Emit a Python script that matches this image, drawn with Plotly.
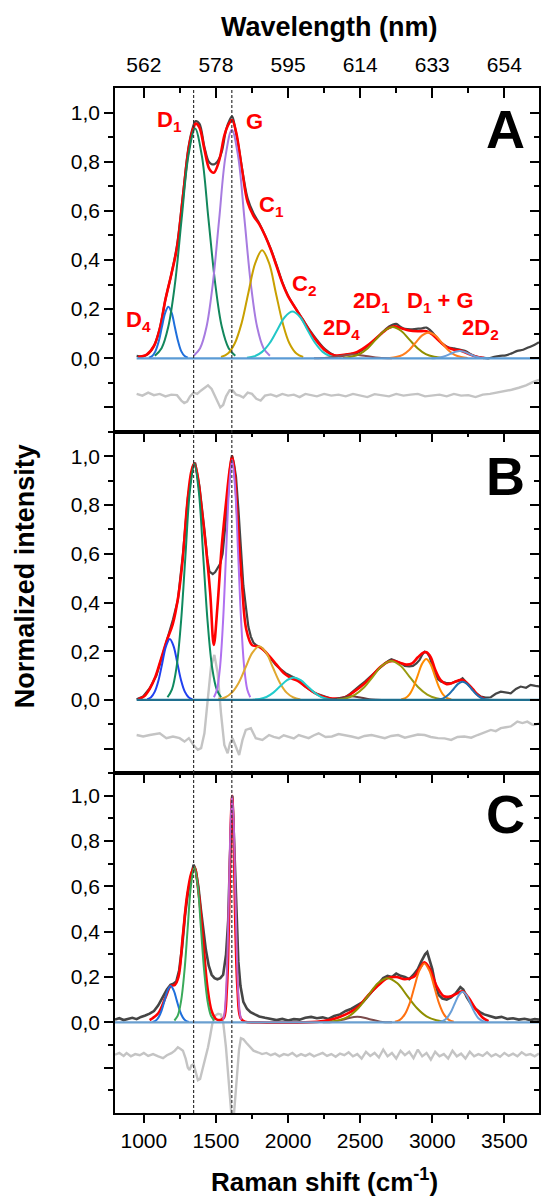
import plotly.graph_objects as go

# ---------------- tick labels / axis values ----------------
raman_ticks = [1000, 1500, 2000, 2500, 3000, 3500]
raman_labels = ["1000", "1500", "2000", "2500", "3000", "3500"]
wavelength_labels = ["562", "578", "595", "614", "633", "654"]
raman_minor = [750, 1250, 1750, 2250, 2750, 3250]
y_ticks = [-0.2, 0.0, 0.2, 0.4, 0.6, 0.8, 1.0]
y_labels = ["", "0,0", "0,2", "0,4", "0,6", "0,8", "1,0"]
y_minor = [-0.3, -0.1, 0.1, 0.3, 0.5, 0.7, 0.9]
band_lines = [1345, 1610]
panel_letters = ["A", "B", "C"]

# ---------------- panel A ----------------
A_spectrum = [[950,0.010],[990,0.008],[1030,0.018],[1070,0.05],[1110,0.12],[1150,0.24],[1190,0.34],[1230,0.46],
 [1270,0.66],[1310,0.86],[1340,0.94],[1360,0.965],[1385,0.955],[1420,0.86],[1450,0.80],[1470,0.79],[1490,0.79],
 [1510,0.80],[1540,0.84],[1570,0.93],[1595,0.97],[1612,0.985],[1635,0.93],[1660,0.85],[1690,0.74],[1720,0.65],
 [1760,0.59],[1800,0.55],[1840,0.50],[1880,0.445],[1920,0.38],[1960,0.31],[2000,0.255],[2050,0.205],[2100,0.16],
 [2150,0.115],[2200,0.075],[2260,0.035],[2320,0.012],[2360,0.008],[2400,0.014],[2440,0.018],[2480,0.022],
 [2520,0.035],[2560,0.055],[2600,0.075],[2640,0.097],[2680,0.12],[2720,0.135],[2750,0.14],[2780,0.128],
 [2810,0.12],[2850,0.118],[2890,0.12],[2930,0.122],[2960,0.125],[2990,0.112],[3030,0.085],[3070,0.06],
 [3110,0.045],[3150,0.04],[3190,0.035],[3230,0.03],[3270,0.015],[3310,0.006],[3350,0.002],[3390,0.0],
 [3430,0.006],[3470,0.01],[3510,0.012],[3550,0.02],[3590,0.03],[3630,0.035],[3670,0.045],[3710,0.055],[3740,0.065]]
A_fit = [[960,0.005],[1020,0.015],[1070,0.05],[1110,0.12],[1150,0.24],[1190,0.34],[1230,0.45],[1270,0.65],
 [1310,0.85],[1340,0.93],[1360,0.955],[1385,0.94],[1420,0.85],[1455,0.77],[1485,0.755],[1520,0.80],[1560,0.91],
 [1590,0.955],[1612,0.97],[1640,0.92],[1680,0.77],[1720,0.634],[1760,0.58],[1800,0.546],[1840,0.50],[1880,0.443],
 [1920,0.375],[1960,0.307],[2000,0.253],[2050,0.205],[2100,0.158],[2150,0.11],[2200,0.069],[2260,0.031],
 [2320,0.012],[2400,0.015],[2480,0.026],[2560,0.056],[2640,0.097],[2700,0.124],[2740,0.13],[2790,0.121],
 [2840,0.113],[2900,0.11],[2960,0.11],[3000,0.097],[3050,0.069],[3100,0.045],[3150,0.035],[3200,0.031],
 [3250,0.018],[3300,0.007],[3360,0.001]]
A_residual = [[950,-0.145],[990,-0.152],[1030,-0.14],[1070,-0.15],[1110,-0.145],[1150,-0.155],[1190,-0.148],
 [1230,-0.15],[1260,-0.172],[1280,-0.182],[1300,-0.176],[1320,-0.155],[1345,-0.14],[1370,-0.145],[1395,-0.132],
 [1420,-0.122],[1445,-0.11],[1470,-0.125],[1490,-0.15],[1510,-0.18],[1530,-0.2],[1550,-0.19],[1570,-0.155],
 [1595,-0.13],[1615,-0.13],[1640,-0.148],[1665,-0.152],[1690,-0.16],[1720,-0.14],[1750,-0.145],[1780,-0.165],
 [1810,-0.172],[1840,-0.152],[1880,-0.147],[1920,-0.155],[1960,-0.145],[2000,-0.152],[2040,-0.148],[2080,-0.158],
 [2120,-0.145],[2160,-0.15],[2200,-0.155],[2250,-0.145],[2300,-0.152],[2350,-0.148],[2400,-0.155],[2450,-0.145],
 [2500,-0.15],[2550,-0.158],[2600,-0.146],[2650,-0.15],[2700,-0.155],[2750,-0.145],[2800,-0.152],[2850,-0.148],
 [2900,-0.145],[2950,-0.155],[3000,-0.15],[3050,-0.148],[3100,-0.155],[3150,-0.145],[3200,-0.152],[3250,-0.15],
 [3300,-0.158],[3350,-0.148],[3400,-0.145],[3450,-0.14],[3500,-0.135],[3550,-0.128],[3600,-0.12],[3650,-0.11],
 [3700,-0.096],[3740,-0.088]]
A_base_x = [950, 3740]
A_base_y = [0.0, 0.0]
A_D4_x = [1035,1058,1080,1103,1125,1148,1170,1193,1215,1238,1260,1283,1305]
A_D4_y = [0.002,0.009,0.028,0.068,0.127,0.185,0.21,0.185,0.127,0.068,0.028,0.009,0.002]
A_D1_x = [1076,1123,1169,1216,1262,1309,1355,1402,1448,1495,1541,1588,1634]
A_D1_y = [0.010,0.041,0.127,0.304,0.567,0.825,0.935,0.825,0.567,0.304,0.127,0.041,0.010]
A_G_x = [1346,1390,1434,1478,1522,1566,1610,1654,1698,1742,1786,1830,1874]
A_G_y = [0.010,0.041,0.126,0.302,0.564,0.821,0.93,0.821,0.564,0.302,0.126,0.041,0.010]
A_C1_x = [1535,1583,1630,1678,1725,1773,1820,1868,1915,1963,2010,2058,2105]
A_C1_y = [0.005,0.019,0.060,0.143,0.267,0.388,0.44,0.388,0.267,0.143,0.060,0.019,0.005]
A_C2_x = [1715,1768,1820,1873,1925,1978,2030,2083,2135,2188,2240,2293,2345]
A_C2_y = [0.002,0.008,0.026,0.062,0.115,0.168,0.19,0.168,0.115,0.062,0.026,0.008,0.002]
A_2D4_x = [2180,2270,2360,2450,2540,2630,2720]
A_2D4_y = [0.0,0.002,0.009,0.015,0.009,0.002,0.0]
A_2D1_x = [2380,2438,2495,2553,2610,2668,2725,2783,2840,2898,2955,3013,3070]
A_2D1_y = [0.001,0.006,0.017,0.041,0.077,0.112,0.127,0.112,0.077,0.041,0.017,0.006,0.001]
A_D1G_x = [2705,2750,2795,2840,2885,2930,2975,3020,3065,3110,3155,3200,3245]
A_D1G_y = [0.001,0.005,0.014,0.034,0.064,0.093,0.105,0.093,0.064,0.034,0.014,0.005,0.001]
A_2D2_x = [2995,3028,3060,3093,3125,3158,3190,3223,3255,3288,3320,3353,3385]
A_2D2_y = [0.0,0.001,0.004,0.010,0.018,0.026,0.03,0.026,0.018,0.010,0.004,0.001,0.0]

# band labels of panel A: text, x (cm-1), y (intensity)
label_text = ["D<sub>1</sub>", "G", "C<sub>1</sub>", "C<sub>2</sub>", "D<sub>4</sub>", "2D<sub>4</sub>",
              "2D<sub>1</sub>", "D<sub>1</sub> + G", "2D<sub>2</sub>"]
label_x = [1180, 1765, 1885, 2110, 960, 2370, 2580, 3060, 3335]
label_y = [0.965, 0.965, 0.62, 0.30, 0.15, 0.12, 0.23, 0.23, 0.118]

# ---------------- panel B ----------------
B_spectrum = [[950,0.003],[995,0.014],[1041,0.048],[1087,0.10],[1133,0.19],[1168,0.26],[1202,0.33],[1236,0.41],
 [1271,0.60],[1305,0.83],[1340,0.96],[1356,0.974],[1386,0.876],[1420,0.70],[1440,0.58],[1455,0.527],[1478,0.517],
 [1495,0.525],[1512,0.54],[1530,0.56],[1546,0.60],[1565,0.70],[1581,0.81],[1597,0.95],[1611,1.005],[1625,0.97],
 [1639,0.917],[1656,0.78],[1673,0.60],[1690,0.47],[1708,0.38],[1725,0.30],[1742,0.26],[1760,0.235],[1776,0.226],
 [1800,0.22],[1822,0.212],[1845,0.195],[1868,0.178],[1890,0.16],[1914,0.144],[1950,0.125],[1983,0.11],[2020,0.098],
 [2051,0.089],[2085,0.075],[2120,0.055],[2155,0.04],[2189,0.027],[2225,0.02],[2258,0.014],[2290,0.006],[2327,0.0],
 [2360,0.004],[2396,0.011],[2430,0.025],[2464,0.044],[2500,0.06],[2533,0.075],[2570,0.095],[2602,0.116],
 [2640,0.135],[2671,0.15],[2700,0.162],[2717,0.167],[2740,0.162],[2763,0.157],[2790,0.148],[2809,0.14],
 [2840,0.138],[2866,0.14],[2890,0.15],[2912,0.164],[2930,0.185],[2947,0.198],[2965,0.192],[2981,0.178],
 [3000,0.145],[3016,0.11],[3040,0.085],[3062,0.075],[3095,0.07],[3131,0.068],[3160,0.075],[3190,0.08],
 [3210,0.089],[3240,0.07],[3268,0.048],[3300,0.03],[3337,0.014],[3370,0.01],[3406,0.011],[3440,0.025],
 [3475,0.034],[3510,0.03],[3544,0.027],[3580,0.045],[3613,0.055],[3650,0.05],[3682,0.062],[3715,0.058],[3746,0.055]]
B_fit = [[960,0.003],[1000,0.014],[1040,0.045],[1080,0.095],[1120,0.17],[1160,0.245],[1200,0.31],[1240,0.43],
 [1270,0.58],[1300,0.80],[1330,0.94],[1350,0.97],[1370,0.93],[1400,0.79],[1430,0.63],[1460,0.44],[1485,0.226],
 [1510,0.38],[1540,0.63],[1570,0.81],[1595,0.944],[1612,1.0],[1630,0.93],[1650,0.74],[1680,0.48],[1710,0.29],
 [1750,0.225],[1790,0.22],[1830,0.205],[1870,0.18],[1920,0.145],[1970,0.11],[2020,0.09],[2070,0.077],[2120,0.055],
 [2170,0.034],[2220,0.018],[2280,0.008],[2340,0.006],[2400,0.012],[2460,0.035],[2520,0.062],[2580,0.098],
 [2640,0.135],[2700,0.158],[2740,0.16],[2780,0.152],[2820,0.145],[2860,0.15],[2900,0.175],[2940,0.195],
 [2960,0.196],[2990,0.175],[3020,0.125],[3060,0.08],[3100,0.065],[3140,0.07],[3180,0.08],[3210,0.082],
 [3240,0.07],[3280,0.045],[3320,0.018],[3360,0.005]]
B_residual = [[950,-0.144],[995,-0.15],[1041,-0.144],[1080,-0.14],[1110,-0.137],[1156,-0.157],[1202,-0.15],
 [1248,-0.157],[1282,-0.171],[1312,-0.157],[1344,-0.185],[1374,-0.205],[1397,-0.198],[1420,-0.137],[1443,0.014],
 [1466,0.137],[1489,0.185],[1512,0.11],[1535,-0.055],[1558,-0.185],[1581,-0.219],[1597,-0.178],[1615,-0.157],
 [1638,-0.192],[1661,-0.226],[1684,-0.164],[1707,-0.123],[1742,-0.116],[1776,-0.157],[1822,-0.164],[1868,-0.144],
 [1900,-0.152],[1937,-0.157],[1970,-0.145],[2005,-0.15],[2040,-0.158],[2074,-0.144],[2110,-0.15],[2143,-0.157],
 [2180,-0.145],[2212,-0.137],[2260,-0.152],[2304,-0.15],[2350,-0.14],[2396,-0.144],[2440,-0.15],[2488,-0.157],
 [2530,-0.148],[2579,-0.144],[2625,-0.152],[2671,-0.157],[2715,-0.148],[2763,-0.144],[2810,-0.155],[2855,-0.15],
 [2900,-0.142],[2947,-0.144],[2990,-0.152],[3039,-0.157],[3085,-0.158],[3131,-0.164],[3175,-0.152],[3222,-0.15],
 [3270,-0.155],[3314,-0.144],[3360,-0.135],[3406,-0.123],[3440,-0.128],[3475,-0.116],[3510,-0.112],[3544,-0.109],
 [3570,-0.098],[3590,-0.089],[3625,-0.095],[3659,-0.089],[3690,-0.1],[3705,-0.103],[3746,-0.096]]
B_base_x = [950, 3740]
B_base_y = [0.0, 0.0]
B_D4_x = [1024,1050,1076,1102,1128,1154,1180,1206,1232,1258,1284,1310,1336]
B_D4_y = [0.003,0.011,0.034,0.081,0.152,0.221,0.25,0.221,0.152,0.081,0.034,0.011,0.003]
B_D1_x = [1164,1195,1226,1257,1288,1319,1350,1381,1412,1443,1474,1505,1536]
B_D1_y = [0.011,0.043,0.131,0.315,0.588,0.856,0.97,0.856,0.588,0.315,0.131,0.043,0.011]
B_G_x = [1486,1507,1528,1549,1570,1591,1612,1633,1654,1675,1696,1717,1738]
B_G_y = [0.011,0.043,0.133,0.320,0.597,0.869,0.985,0.869,0.597,0.320,0.133,0.043,0.011]
B_C1_x = [1515,1563,1610,1658,1705,1753,1800,1848,1895,1943,1990,2038,2085]
B_C1_y = [0.002,0.010,0.030,0.071,0.133,0.194,0.22,0.194,0.133,0.071,0.030,0.010,0.002]
B_C2_x = [1755,1803,1850,1898,1945,1993,2040,2088,2135,2183,2230,2278,2325]
B_C2_y = [0.001,0.004,0.012,0.030,0.056,0.081,0.092,0.081,0.056,0.030,0.012,0.004,0.001]
B_2D4_x = [2230,2300,2370,2440,2510,2580,2650]
B_2D4_y = [0.0,0.002,0.009,0.015,0.009,0.002,0.0]
B_2D1_x = [2340,2403,2465,2528,2590,2653,2715,2778,2840,2903,2965,3028,3090]
B_2D1_y = [0.002,0.007,0.022,0.052,0.097,0.141,0.16,0.141,0.097,0.052,0.022,0.007,0.002]
B_D1G_x = [2784,2813,2842,2871,2900,2929,2958,2987,3016,3045,3074,3103,3132]
B_D1G_y = [0.002,0.007,0.023,0.055,0.102,0.148,0.168,0.148,0.102,0.055,0.023,0.007,0.002]
B_2D2_x = [3024,3055,3086,3117,3148,3179,3210,3241,3272,3303,3334,3365,3396]
B_2D2_y = [0.001,0.003,0.010,0.024,0.045,0.066,0.075,0.066,0.045,0.024,0.010,0.003,0.001]

# ---------------- panel C ----------------
C_spectrum = [[800,0.012],[830,0.018],[860,0.010],[890,0.016],[920,0.02],[950,0.014],[980,0.024],[1010,0.03],
 [1040,0.038],[1070,0.05],[1100,0.075],[1130,0.11],[1160,0.145],[1185,0.165],[1205,0.17],[1225,0.18],[1245,0.23],
 [1265,0.33],[1285,0.47],[1305,0.57],[1325,0.64],[1345,0.695],[1360,0.67],[1378,0.6],[1395,0.5],[1410,0.42],
 [1430,0.32],[1450,0.25],[1470,0.21],[1490,0.195],[1510,0.19],[1530,0.195],[1550,0.21],[1570,0.30],[1585,0.45],
 [1597,0.72],[1606,0.9],[1613,1.0],[1620,0.9],[1630,0.7],[1642,0.45],[1655,0.27],[1670,0.16],[1690,0.09],
 [1715,0.06],[1740,0.045],[1770,0.035],[1800,0.026],[1840,0.02],[1880,0.015],[1920,0.01],[1960,0.015],[2000,0.008],
 [2040,0.014],[2080,0.012],[2120,0.02],[2160,0.024],[2200,0.018],[2240,0.022],[2280,0.015],[2320,0.028],
 [2360,0.035],[2400,0.05],[2440,0.06],[2480,0.075],[2520,0.09],[2560,0.12],[2600,0.15],[2630,0.17],[2660,0.195],
 [2690,0.205],[2720,0.2],[2750,0.215],[2780,0.205],[2810,0.2],[2840,0.19],[2870,0.21],[2900,0.235],[2925,0.27],
 [2950,0.3],[2965,0.31],[2980,0.28],[3000,0.235],[3020,0.17],[3045,0.12],[3070,0.105],[3100,0.1],[3130,0.11],
 [3165,0.13],[3195,0.155],[3215,0.145],[3240,0.11],[3270,0.08],[3300,0.06],[3330,0.045],[3360,0.035],[3400,0.026],
 [3440,0.02],[3480,0.024],[3520,0.015],[3560,0.018],[3600,0.012],[3640,0.016],[3680,0.01],[3710,0.014],[3740,0.012]]
C_fit = [[1040,0.01],[1100,0.04],[1150,0.11],[1186,0.16],[1215,0.165],[1240,0.2],[1270,0.38],[1300,0.56],
 [1330,0.66],[1350,0.685],[1380,0.57],[1410,0.37],[1440,0.16],[1470,0.05],[1500,0.015],[1530,0.01],[1555,0.02],
 [1575,0.14],[1590,0.45],[1602,0.85],[1612,1.0],[1622,0.85],[1634,0.45],[1650,0.14],[1670,0.02],[1700,0.003],
 [1800,0.0],[2200,0.002],[2300,0.012],[2400,0.035],[2480,0.065],[2550,0.115],[2620,0.16],[2690,0.195],
 [2750,0.2],[2810,0.19],[2870,0.2],[2920,0.245],[2945,0.265],[2980,0.24],[3030,0.16],[3080,0.115],[3130,0.115],
 [3180,0.13],[3210,0.137],[3250,0.11],[3300,0.06],[3350,0.02],[3390,0.005]]
C_residual = [[800,-0.143],[830,-0.135],[860,-0.148],[880,-0.136],[910,-0.15],[940,-0.14],[972,-0.145],
 [1000,-0.135],[1030,-0.148],[1064,-0.14],[1100,-0.15],[1133,-0.158],[1160,-0.145],[1191,-0.136],[1215,-0.125],
 [1236,-0.11],[1255,-0.118],[1271,-0.125],[1290,-0.16],[1305,-0.2],[1317,-0.21],[1330,-0.19],[1345,-0.185],
 [1360,-0.225],[1375,-0.255],[1390,-0.25],[1410,-0.2],[1430,-0.15],[1445,-0.11],[1460,-0.06],[1475,-0.005],
 [1495,0.03],[1515,0.038],[1535,0.035],[1551,-0.005],[1569,-0.107],[1585,-0.24],[1598,-0.34],[1610,-0.43],
 [1622,-0.43],[1635,-0.33],[1648,-0.2],[1660,-0.12],[1673,-0.07],[1690,-0.075],[1710,-0.09],[1730,-0.106],
 [1760,-0.125],[1790,-0.132],[1820,-0.14],[1850,-0.135],[1880,-0.145],[1910,-0.138],[1940,-0.15],[1970,-0.14],
 [2000,-0.145],[2030,-0.135],[2060,-0.15],[2090,-0.14],[2120,-0.148],[2150,-0.138],[2180,-0.15],[2210,-0.142],
 [2240,-0.135],[2270,-0.148],[2300,-0.14],[2330,-0.152],[2360,-0.138],[2390,-0.145],[2420,-0.132],[2450,-0.15],
 [2480,-0.14],[2510,-0.16],[2540,-0.13],[2570,-0.148],[2600,-0.135],[2630,-0.155],[2660,-0.12],[2690,-0.15],
 [2720,-0.135],[2750,-0.16],[2780,-0.125],[2810,-0.145],[2840,-0.13],[2870,-0.158],[2900,-0.12],[2930,-0.15],
 [2960,-0.135],[2990,-0.165],[3020,-0.13],[3050,-0.15],[3080,-0.14],[3110,-0.16],[3140,-0.125],[3170,-0.15],
 [3200,-0.138],[3230,-0.16],[3260,-0.13],[3290,-0.15],[3320,-0.14],[3350,-0.148],[3380,-0.132],[3410,-0.15],
 [3440,-0.14],[3470,-0.152],[3500,-0.135],[3530,-0.148],[3560,-0.138],[3590,-0.15],[3620,-0.132],[3650,-0.145],
 [3680,-0.14],[3710,-0.15],[3740,-0.138]]
C_base_x = [800, 3740]
C_base_y = [0.0, 0.0]
C_D4_x = [1060,1081,1102,1123,1144,1165,1186,1207,1228,1249,1270,1291,1312]
C_D4_y = [0.002,0.007,0.022,0.052,0.097,0.141,0.16,0.141,0.097,0.052,0.022,0.007,0.002]
C_D1_x = [1212,1235,1258,1281,1304,1327,1350,1373,1396,1419,1442,1465,1488]
C_D1_y = [0.008,0.030,0.093,0.222,0.415,0.605,0.685,0.605,0.415,0.222,0.093,0.030,0.008]
C_G_x = [1549,1560,1570,1581,1591,1602,1612,1623,1633,1644,1654,1665,1675]
C_G_y = [0.011,0.044,0.135,0.325,0.607,0.883,1.0,0.883,0.607,0.325,0.135,0.044,0.011]
C_2D4_x = [2240,2320,2400,2480,2560,2640,2720]
C_2D4_y = [0.0,0.003,0.015,0.025,0.015,0.003,0.0]
C_2D1_x = [2285,2353,2420,2488,2555,2623,2690,2758,2825,2893,2960,3028,3095]
C_2D1_y = [0.002,0.009,0.026,0.063,0.118,0.172,0.195,0.172,0.118,0.063,0.026,0.009,0.002]
C_D1G_x = [2741,2775,2809,2843,2877,2911,2945,2979,3013,3047,3081,3115,3149]
C_D1G_y = [0.003,0.011,0.035,0.084,0.158,0.229,0.26,0.229,0.158,0.084,0.035,0.011,0.003]
C_2D2_x = [3045,3073,3100,3128,3155,3183,3210,3238,3265,3293,3320,3348,3375]
C_2D2_y = [0.001,0.006,0.018,0.044,0.082,0.119,0.135,0.119,0.082,0.044,0.018,0.006,0.001]

# ---------------- figure ----------------
FONT = "Liberation Sans, Arial, Helvetica, sans-serif"
fig = go.Figure()


def add_line(x, y, xa, ya, color, width, shape="spline"):
    line = dict(color=color, width=width, shape=shape)
    if shape == "spline":
        line["smoothing"] = 1.0
    fig.add_trace(go.Scatter(x=x, y=y, xaxis=xa, yaxis=ya, mode="lines", line=line,
                             showlegend=False, hoverinfo="skip"))


def add_pairs(pairs, xa, ya, color, width, shape="spline"):
    add_line([p[0] for p in pairs], [p[1] for p in pairs], xa, ya, color, width, shape)


panels = [
    dict(xa="x", ya="y", spec=A_spectrum, fit=A_fit, res=A_residual, base=(A_base_x, A_base_y),
         spec_shape="spline", spec_w=2.2,
         comps=[(A_D4_x, A_D4_y, "#1f6fdc"), (A_D1_x, A_D1_y, "#12875c"), (A_G_x, A_G_y, "#a77be0"),
                (A_C1_x, A_C1_y, "#c9a000"), (A_C2_x, A_C2_y, "#22c7c7"), (A_2D4_x, A_2D4_y, "#8c4b4b"),
                (A_2D1_x, A_2D1_y, "#8f8f00"), (A_D1G_x, A_D1G_y, "#ff7f1e"), (A_2D2_x, A_2D2_y, "#6f9fd8")],
         base_color="#5b9bd5"),
    dict(xa="x2", ya="y2", spec=B_spectrum, fit=B_fit, res=B_residual, base=(B_base_x, B_base_y),
         spec_shape="linear", spec_w=2.2,
         comps=[(B_D4_x, B_D4_y, "#2040f0"), (B_D1_x, B_D1_y, "#0f8a5f"), (B_G_x, B_G_y, "#b070f0"),
                (B_C1_x, B_C1_y, "#e0a830"), (B_C2_x, B_C2_y, "#22cccc"), (B_2D4_x, B_2D4_y, "#6b3a3a"),
                (B_2D1_x, B_2D1_y, "#9a9a10"), (B_D1G_x, B_D1G_y, "#ff8c00"), (B_2D2_x, B_2D2_y, "#1f6fb0")],
         base_color="#1f6f8f"),
    dict(xa="x3", ya="y3", spec=C_spectrum, fit=C_fit, res=C_residual, base=(C_base_x, C_base_y),
         spec_shape="linear", spec_w=2.6,
         comps=[(C_D4_x, C_D4_y, "#1f6fdc"), (C_D1_x, C_D1_y, "#3aaa5a"), (C_G_x, C_G_y, "#c061cb"),
                (C_2D4_x, C_2D4_y, "#7a4a4a"), (C_2D1_x, C_2D1_y, "#8f8f00"), (C_D1G_x, C_D1G_y, "#ff7010"),
                (C_2D2_x, C_2D2_y, "#6a9fd8")],
         base_color="#6a9fd0"),
]

for p in panels:
    add_pairs(p["res"], p["xa"], p["ya"], "#c4c4c4", 2.4, "linear")
    add_pairs(p["spec"], p["xa"], p["ya"], "#454545", p["spec_w"], p["spec_shape"])
    add_pairs(p["fit"], p["xa"], p["ya"], "#ff0000", 2.6, "spline")
    for cx, cy, col in p["comps"]:
        add_line(cx, cy, p["xa"], p["ya"], col, 2.0, "spline")
    add_line(p["base"][0], p["base"][1], p["xa"], p["ya"], p["base_color"], 2.2, "linear")

# empty traces so that the extra (tick-only) axes are drawn
for xa, ya in [("x", "y4"), ("x2", "y5"), ("x3", "y6"), ("x4", "y3")]:
    fig.add_trace(go.Scatter(x=[None], y=[None], xaxis=xa, yaxis=ya, mode="lines",
                             showlegend=False, hoverinfo="skip"))

# ---------------- axes ----------------
x_range = [800, 3740]
dom = {"A": [0.6644, 1.0], "B": [0.3317, 0.6644], "C": [0.0, 0.3317]}
tick_font = dict(family=FONT, size=21, color="black")


def x_axis(anchor, show_labels, labels):
    return dict(domain=[0, 1], anchor=anchor, side="top", range=x_range, showgrid=False, zeroline=False,
                showline=True, linecolor="black", linewidth=1.5, mirror=True,
                tickmode="array", tickvals=raman_ticks, ticktext=labels, ticks="inside", ticklen=10,
                tickwidth=1.5, tickcolor="black", showticklabels=show_labels, tickfont=tick_font,
                ticklabelstandoff=6,
                minor=dict(tickmode="array", tickvals=raman_minor, ticks="inside", ticklen=5,
                           tickwidth=1.5, tickcolor="black"))


def y_axis(domain, anchor, yr):
    return dict(domain=domain, anchor=anchor, range=yr, showgrid=False, zeroline=False,
                showline=True, linecolor="black", linewidth=1.5, mirror=True,
                tickmode="array", tickvals=y_ticks, ticktext=y_labels, ticks="outside", ticklen=9,
                tickwidth=1.5, tickcolor="black", tickfont=tick_font,
                minor=dict(tickmode="array", tickvals=y_minor, ticks="outside", ticklen=5,
                           tickwidth=1.5, tickcolor="black"))


def y_right(over, anchor, yr):
    return dict(overlaying=over, anchor=anchor, side="right", range=yr, showgrid=False, zeroline=False,
                showline=False, tickmode="array", tickvals=y_ticks, ticks="inside", ticklen=9,
                tickwidth=1.5, tickcolor="black", showticklabels=False,
                minor=dict(tickmode="array", tickvals=y_minor, ticks="inside", ticklen=5,
                           tickwidth=1.5, tickcolor="black"))


yr_ab = [-0.3, 1.1]
yr_c = [-0.4, 1.1]

fig.update_layout(
    width=543, height=1198,
    margin=dict(l=115, r=2, t=88, b=85),
    paper_bgcolor="white", plot_bgcolor="white",
    showlegend=False,
    font=dict(family=FONT, size=21, color="black"),
    xaxis=x_axis("y", True, wavelength_labels),
    xaxis2=x_axis("y2", False, raman_labels),
    xaxis3=x_axis("y3", False, raman_labels),
    xaxis4=dict(overlaying="x3", anchor="y3", side="bottom", range=x_range, showgrid=False,
                zeroline=False, showline=False, tickmode="array", tickvals=raman_ticks,
                ticktext=raman_labels, ticks="outside", ticklen=9, tickwidth=1.5, tickcolor="black",
                tickfont=tick_font,
                minor=dict(tickmode="array", tickvals=raman_minor, ticks="outside", ticklen=5,
                           tickwidth=1.5, tickcolor="black")),
    yaxis=y_axis(dom["A"], "x", yr_ab),
    yaxis2=y_axis(dom["B"], "x2", yr_ab),
    yaxis3=y_axis(dom["C"], "x3", yr_c),
    yaxis4=y_right("y", "x", yr_ab),
    yaxis5=y_right("y2", "x2", yr_ab),
    yaxis6=y_right("y3", "x3", yr_c),
)

# dotted band markers through all panels
for v in band_lines:
    fig.add_shape(type="line", xref="x", yref="paper", x0=v, x1=v, y0=0, y1=1,
                  line=dict(color="#333333", width=1.2, dash="3px,2px"), layer="above")

annotations = []
for t, lx, ly in zip(label_text, label_x, label_y):
    annotations.append(dict(text="<b>" + t + "</b>", x=lx, y=ly, xref="x", yref="y", showarrow=False,
                            xanchor="center", yanchor="middle",
                            font=dict(family=FONT, size=22, color="#ff0000")))

letter_pos = [("x", "y", 0.935), ("x2", "y2", 0.92), ("x3", "y3", 0.918)]
for letter, (xr, yrf, ly) in zip(panel_letters, letter_pos):
    annotations.append(dict(text="<b>" + letter + "</b>", x=3505, y=ly, xref=xr, yref=yrf, showarrow=False,
                            xanchor="center", yanchor="middle",
                            font=dict(family=FONT, size=54, color="black")))

annotations.append(dict(text="<b>Wavelength (nm)</b>", x=0.507, y=1.0595, xref="paper", yref="paper",
                        showarrow=False, xanchor="center", yanchor="middle",
                        font=dict(family=FONT, size=27, color="black")))
annotations.append(dict(text="<b>Raman shift (cm<sup>-1</sup>)</b>", x=0.495, y=-0.066, xref="paper",
                        yref="paper", showarrow=False, xanchor="center", yanchor="middle",
                        font=dict(family=FONT, size=26, color="black")))
annotations.append(dict(text="<b>Normalized intensity</b>", x=-0.2136, y=0.524, xref="paper", yref="paper",
                        showarrow=False, xanchor="center", yanchor="middle", textangle=-90,
                        font=dict(family=FONT, size=27, color="black")))
fig.update_layout(annotations=annotations)

fig.write_html("out.html", config={"displayModeBar": False},
               post_script="document.body.style.margin='0';document.body.style.overflow='hidden';")
